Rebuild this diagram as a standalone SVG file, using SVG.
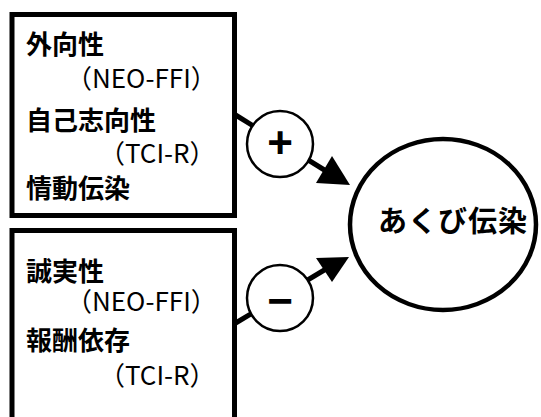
<svg xmlns="http://www.w3.org/2000/svg" width="541" height="417" viewBox="0 0 541 417">
<style>
  .box { fill: #fff; stroke: #000; stroke-width: 5; }
  .sign { fill: #fff; stroke: #000; stroke-width: 2.5; }
  .big { fill: #fff; stroke: #000; stroke-width: 4.5; }
  .conn { stroke: #000; stroke-width: 5; fill: none; }
  .head { fill: #000; }
  text { font-family: "Noto Sans CJK JP", "Noto Sans", sans-serif; fill: #000; }
  .b { font-size: 26px; font-weight: bold; }
  .r { font-size: 26px; }
  .sym { font-family: "Liberation Sans", Arial, sans-serif; font-size: 44px; font-weight: bold; text-anchor: middle; }
</style>
<rect width="541" height="417" fill="#fff"/>
<g id="connectors">
  <line class="conn" x1="234" y1="114" x2="326" y2="171"/>
  <polygon class="head" points="332,156 316,183 350,185"/>
  <line class="conn" x1="234" y1="324" x2="326" y2="269"/>
  <polygon class="head" points="316,258 332,282 349,257"/>
</g>
<g id="box-top">
  <rect class="box" x="12" y="14.5" width="222.5" height="201"/>
  <text class="b" x="26" y="54">外向性</text>
  <text class="r" x="66" y="88">（NEO-FFI）</text>
  <text class="b" x="26" y="130">自己志向性</text>
  <text class="r" x="99" y="163">（TCI-R）</text>
  <text class="b" x="26" y="198">情動伝染</text>
</g>
<g id="box-bottom">
  <rect class="box" x="12" y="230.5" width="222.5" height="200"/>
  <text class="b" x="26" y="281">誠実性</text>
  <text class="r" x="66" y="311">（NEO-FFI）</text>
  <text class="b" x="26" y="350">報酬依存</text>
  <text class="r" x="99" y="385">（TCI-R）</text>
</g>
<g id="plus">
  <circle class="sign" cx="280" cy="144" r="33"/>
  <text class="sym" x="280" y="158">+</text>
</g>
<g id="minus">
  <circle class="sign" cx="280" cy="298" r="33"/>
  <text class="sym" x="280" y="316">−</text>
</g>
<g id="yawn">
  <ellipse class="big" cx="443" cy="224.5" rx="93" ry="85.5"/>
  <text x="378" y="232" font-size="29" font-weight="bold" textLength="149" lengthAdjust="spacing">あくび伝染</text>
</g>
</svg>
